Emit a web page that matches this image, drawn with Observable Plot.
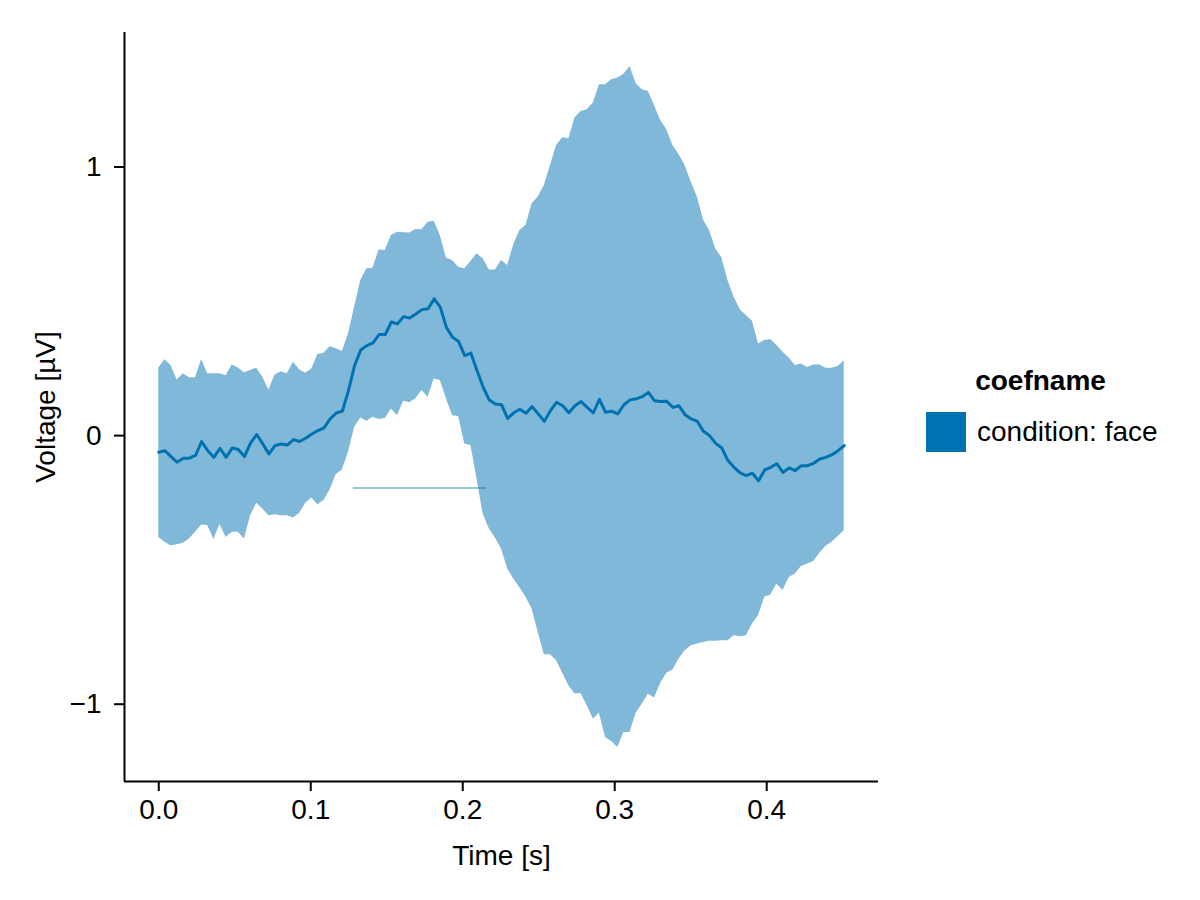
<!DOCTYPE html>
<html>
<head>
<meta charset="utf-8">
<script src="https://cdn.jsdelivr.net/npm/d3@7"></script>
<script src="https://cdn.jsdelivr.net/npm/@observablehq/plot@0.6"></script>
<style>
  html, body { margin: 0; padding: 0; background: #fff; }
  #wrap { position: relative; width: 1200px; height: 900px; font-family: "Liberation Sans", Arial, sans-serif; }
  #legend-title { position: absolute; left: 926px; width: 229px; top: 367px; line-height: 28px; font-size: 28px; font-weight: bold; text-align: center; }
  #legend-patch { position: absolute; left: 926px; top: 412px; width: 40px; height: 40px; background: #0072B2; }
  #legend-label { position: absolute; left: 977px; top: 418px; line-height: 28px; font-size: 28px; white-space: nowrap; }
</style>
</head>
<body>
<div id="wrap"></div>
<script>
// ---- data ----
const nSamples = 113;
const sampleStep = 0.451 / 112; // seconds between samples
const times = d3.range(nSamples).map(i => i * sampleStep);

const meanValues = [
  -0.062, -0.056, -0.078, -0.099, -0.084, -0.084, -0.074, -0.022, -0.056, -0.081,
  -0.047, -0.081, -0.046, -0.052, -0.078, -0.027, 0.004, -0.031, -0.068, -0.037,
  -0.031, -0.035, -0.015, -0.022, -0.010, 0.006, 0.019, 0.029, 0.062, 0.084,
  0.091, 0.168, 0.261, 0.319, 0.335, 0.345, 0.376, 0.376, 0.423, 0.416,
  0.443, 0.438, 0.453, 0.469, 0.472, 0.509, 0.478, 0.403, 0.366, 0.350,
  0.298, 0.307, 0.242, 0.180, 0.133, 0.118, 0.115, 0.064, 0.085, 0.098,
  0.083, 0.108, 0.081, 0.053, 0.093, 0.124, 0.111, 0.085, 0.111, 0.127,
  0.105, 0.085, 0.135, 0.087, 0.091, 0.081, 0.115, 0.133, 0.137, 0.145,
  0.161, 0.130, 0.127, 0.128, 0.105, 0.111, 0.078, 0.062, 0.053, 0.016,
  0.000, -0.029, -0.046, -0.093, -0.118, -0.139, -0.149, -0.140, -0.168, -0.128,
  -0.118, -0.105, -0.137, -0.120, -0.130, -0.112, -0.112, -0.103, -0.087, -0.081,
  -0.071, -0.056, -0.037
];

const upperValues = [
  0.252, 0.282, 0.261, 0.207, 0.230, 0.215, 0.215, 0.283, 0.230, 0.230,
  0.230, 0.223, 0.263, 0.252, 0.234, 0.242, 0.251, 0.217, 0.170, 0.226,
  0.238, 0.230, 0.273, 0.245, 0.232, 0.248, 0.302, 0.307, 0.331, 0.323,
  0.313, 0.379, 0.478, 0.577, 0.621, 0.623, 0.692, 0.689, 0.745, 0.757,
  0.755, 0.754, 0.767, 0.766, 0.794, 0.798, 0.745, 0.660, 0.652, 0.627,
  0.621, 0.648, 0.677, 0.658, 0.617, 0.617, 0.652, 0.633, 0.711, 0.764,
  0.782, 0.863, 0.888, 0.931, 1.006, 1.080, 1.109, 1.105, 1.182, 1.207,
  1.213, 1.238, 1.306, 1.306, 1.325, 1.331, 1.345, 1.374, 1.310, 1.288,
  1.281, 1.229, 1.173, 1.139, 1.080, 1.047, 1.006, 0.943, 0.888, 0.803,
  0.764, 0.695, 0.662, 0.577, 0.515, 0.469, 0.447, 0.426, 0.341, 0.354,
  0.358, 0.335, 0.310, 0.289, 0.261, 0.267, 0.254, 0.263, 0.263, 0.251,
  0.251, 0.257, 0.279
];

const lowerValues = [
  -0.379, -0.397, -0.410, -0.406, -0.401, -0.385, -0.360, -0.333, -0.335, -0.387,
  -0.331, -0.379, -0.360, -0.360, -0.385, -0.298, -0.252, -0.273, -0.298, -0.295,
  -0.298, -0.298, -0.307, -0.290, -0.252, -0.232, -0.257, -0.242, -0.202, -0.145,
  -0.128, -0.062, 0.031, 0.066, 0.053, 0.068, 0.060, 0.064, 0.099, 0.074,
  0.128, 0.122, 0.137, 0.168, 0.143, 0.211, 0.205, 0.137, 0.074, 0.071,
  -0.031, -0.037, -0.161, -0.292, -0.347, -0.381, -0.422, -0.496, -0.534, -0.566,
  -0.602, -0.646, -0.733, -0.816, -0.816, -0.838, -0.885, -0.931, -0.962, -0.960,
  -1.006, -1.055, -1.034, -1.124, -1.139, -1.161, -1.105, -1.105, -1.034, -0.999,
  -0.962, -0.977, -0.922, -0.885, -0.873, -0.832, -0.801, -0.782, -0.776, -0.770,
  -0.766, -0.766, -0.764, -0.764, -0.745, -0.749, -0.745, -0.701, -0.670, -0.602,
  -0.593, -0.552, -0.577, -0.528, -0.515, -0.487, -0.478, -0.469, -0.438, -0.412,
  -0.397, -0.376, -0.354
];

// significant cluster (time span and drawing level)
const clusterStart = [0.128];
const clusterEnd = [0.2155];
const clusterLevel = [-0.195];

const xTicks = [0, 0.1, 0.2, 0.3, 0.4];
const yTicks = [-1, 0, 1];
const seriesName = "condition: face";
const legendTitle = "coefname";

// ---- build table ----
const rows = times.map((t, i) => ({t, mean: meanValues[i], upper: upperValues[i], lower: lowerValues[i]}));
const cluster = clusterStart.map((s, i) => ({start: s, end: clusterEnd[i], y: clusterLevel[i]}));

const pad = (lo, hi) => { const r = hi - lo; return [lo - 0.05 * r, hi + 0.05 * r]; };
const xDomain = pad(d3.min(times), d3.max(times));
const yDomain = pad(d3.min(lowerValues), d3.max(upperValues));

const blue = "#0072B2";

const chart = Plot.plot({
  width: 1200,
  height: 900,
  marginLeft: 124,
  marginRight: 322,
  marginTop: 32,
  marginBottom: 119,
  style: {fontFamily: "'Liberation Sans', Arial, sans-serif", fontSize: "28px", color: "#000", background: "#fff"},
  x: {domain: xDomain},
  y: {domain: yDomain},
  marks: [
    Plot.areaY(rows, {x: "t", y1: "lower", y2: "upper", fill: blue, fillOpacity: 0.5}),
    Plot.ruleY(cluster, {x1: "start", x2: "end", y: "y", stroke: blue, strokeOpacity: 0.55, strokeWidth: 1.5}),
    Plot.lineY(rows, {x: "t", y: "mean", stroke: blue, strokeWidth: 3}),
    Plot.axisX({ticks: xTicks, tickFormat: d3.format(".1f"), tickSize: 10, tickPadding: 8, strokeWidth: 2,
      label: "Time [s]", labelAnchor: "center", labelArrow: "none", labelOffset: 83}),
    Plot.axisY({ticks: yTicks, tickFormat: d3.format("d"), tickSize: 10, tickPadding: 13, strokeWidth: 2,
      label: "Voltage [µV]", labelAnchor: "center", labelArrow: "none", labelOffset: 89}),
    Plot.ruleX([xDomain[0]], {stroke: "#000", strokeWidth: 2}),
    Plot.ruleY([yDomain[0]], {stroke: "#000", strokeWidth: 2})
  ]
});

const wrap = document.getElementById("wrap");
wrap.appendChild(chart);

const lt = document.createElement("div"); lt.id = "legend-title"; lt.textContent = legendTitle; wrap.appendChild(lt);
const lp = document.createElement("div"); lp.id = "legend-patch"; wrap.appendChild(lp);
const ll = document.createElement("div"); ll.id = "legend-label"; ll.textContent = seriesName; wrap.appendChild(ll);
</script>
</body>
</html>
